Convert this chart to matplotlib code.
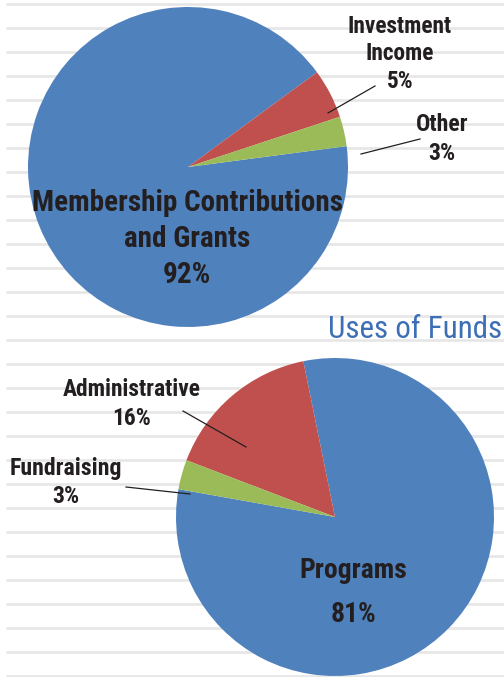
import matplotlib.pyplot as plt
from matplotlib import font_manager as fm
import numpy as np

## Data
sources_labels = ["Membership Contributions\nand Grants", "Investment\nIncome", "Other"]
sources_values = [92, 5, 3]
uses_labels = ["Programs", "Administrative", "Fundraising"]
uses_values = [81, 16, 3]
uses_title = "Uses of Funds"

palette = ["#4f81bd", "#c0504d", "#9bbb59"]
text_color = "#231f20"
title_color = "#3d6fb6"

W, H = 504, 677

# narrowest font we can find
installed = {f.name for f in fm.fontManager.ttflist}
family = "DejaVu Sans"
for cand in ["Roboto Condensed", "Liberation Sans Narrow", "Open Sans Condensed"]:
    if cand in installed:
        family = cand
        break
plt.rcParams["font.family"] = [family, "DejaVu Sans"]

fig = plt.figure(figsize=(W / 100, H / 100), dpi=100)
renderer = fig.canvas.get_renderer()


def pixel_axes():
    ax = fig.add_axes([0, 0, 1, 1])
    ax.set_xlim(0, W)
    ax.set_ylim(H, 0)
    ax.axis("off")
    ax.patch.set_alpha(0)
    return ax


def pie_axes(cx, cy, r):
    ax = fig.add_axes([(cx - r) / W, 1 - (cy + r) / H, 2 * r / W, 2 * r / H])
    ax.axis("off")
    return ax


# ruled background
bg = pixel_axes()
for y in np.arange(4, H + 1, 24):
    bg.plot([6, W], [y, y], color="#e6e6e6", lw=1.9, solid_capstyle="butt")

# Sources of funds
ax1 = pie_axes(188, 167, 160)
ax1.pie(sources_values, colors=palette, radius=1, startangle=7.5,
        counterclock=False, wedgeprops=dict(linewidth=0))
ax1.set_xlim(-1, 1)
ax1.set_ylim(-1, 1)

# Uses of funds
ax2 = pie_axes(335, 517, 159)
ax2.pie(uses_values, colors=palette, radius=1, startangle=169.9,
        counterclock=True, wedgeprops=dict(linewidth=0))
ax2.set_xlim(-1, 1)
ax2.set_ylim(-1, 1)

# text layer on top of the pies
fg = pixel_axes()


def fitted_size(text, width_px, cap_px=None, weight="bold"):
    t = fg.text(0, 0, text, fontsize=20, fontweight=weight)
    w = t.get_window_extent(renderer).width
    t.remove()
    by_width = 20 * width_px / w
    if cap_px is None:
        return by_width
    by_height = cap_px / 0.711 * 72 / 100
    return by_width ** 0.6 * by_height ** 0.4


def label(lines, x, ys, width_px, cap_px, pct, pct_y):
    size = fitted_size(max(lines, key=len), width_px, cap_px)
    cap = 0.711 * size * 100 / 72
    for line, y in zip(lines, ys):
        fg.text(x, y + cap / 2, line, fontsize=size, fontweight="bold",
                color=text_color, ha="center", va="baseline")
    fg.text(x, pct_y + cap / 2, f"{pct}%", fontsize=size, fontweight="bold",
            color=text_color, ha="center", va="baseline")


def leader(p0, p1):
    fg.plot([p0[0], p1[0]], [p0[1], p1[1]], color=text_color, lw=0.9)


label(sources_labels[0].split("\n"), 187, [201, 237], 298, 22, sources_values[0], 273)
label(sources_labels[1].split("\n"), 400, [25, 52], 102, 17, sources_values[1], 80)
label([sources_labels[2]], 442, [123], 52, 17, sources_values[2], 152)
leader((375, 86), (328, 113))
leader((420, 139), (361, 154))

tsize = fitted_size(uses_title, 174, weight="normal")
fg.text(328, 338, uses_title, color=title_color, fontsize=tsize,
        ha="left", va="baseline")

label([uses_labels[0]], 353, [568], 106, 20, uses_values[0], 612)
label([uses_labels[1]], 132, [388], 136, 17, uses_values[1], 417)
label([uses_labels[2]], 66, [467], 111, 17, uses_values[2], 495)
leader((183, 411), (246, 447))
leader((126, 487), (190, 494))

fig.savefig("out.png", dpi=100)
